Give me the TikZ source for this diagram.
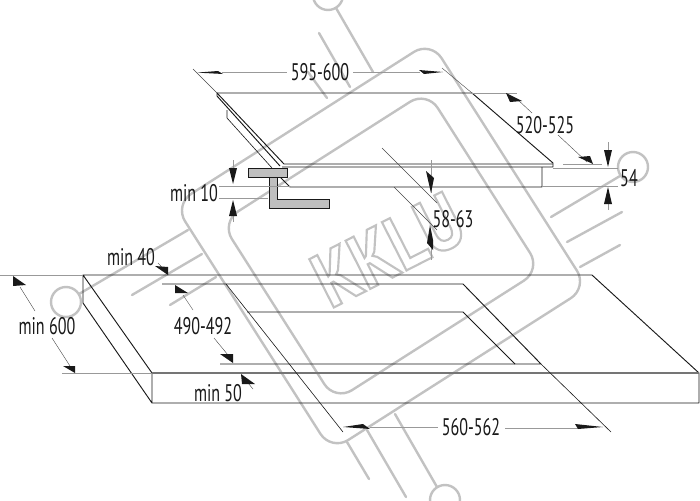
\documentclass[tikz,border=0pt]{standalone}
\usepackage{fontspec}
\setmainfont{PT Sans}[FakeStretch=0.67]
\newfontfamily\markfont{PT Sans}[FakeStretch=0.85]
\definecolor{wm}{gray}{0.76}
\definecolor{ink}{gray}{0.1}
\definecolor{pale}{gray}{0.6}
\tikzset{
  wmline/.style={draw=wm,line width=1.8pt,line cap=round},
  edge/.style={draw=ink,line width=0.7pt,line join=round},
  thin edge/.style={draw=ink,line width=0.45pt},
  ext/.style={draw=pale,line width=0.5pt},
  leader/.style={draw=ink!80,line width=0.3pt},
  tip/.style={fill=ink,draw=none},
  lab/.style={font=\fontsize{18}{18}\selectfont,text=ink,inner sep=0pt,anchor=center},
  steel/.style={fill=black!25,draw=ink,line width=0.7pt}
}
\begin{document}
\begin{tikzpicture}[x=0.75pt,y=-0.75pt]
\useasboundingbox (0,0) rectangle (700,500);
% watermark
\begin{scope}[shift={(381,246)},rotate=32.5]
  \draw[wmline,rounded corners=15] (-152,-146) rectangle (152,146);
  \draw[wmline,rounded corners=15] (-122,-106) rectangle (122,106);
\end{scope}
\node[rotate=27,inner sep=0pt,text=wm,font=\fontsize{58}{58}\markfont\bfseries] (mark) at (388,250)
  {\special{pdf:code 1 Tr 1.6 w}KKLU\special{pdf:code 0 Tr}};
\draw[wmline] (328,-5) circle (15);
\draw[wmline] (336,8) -- (373,72);
\draw[wmline] (319,33) -- (350,87);
\draw[wmline] (308,72) -- (327,98);
\draw[wmline] (445,500) circle (15);
\draw[wmline] (437,487) -- (395,414);
\draw[wmline] (367,430) -- (406,497);
\draw[wmline] (347,442) -- (369,479);
\draw[wmline] (633,167) circle (15);
\draw[wmline] (620,176) -- (551,217);
\draw[wmline] (622,212) -- (567,242);
\draw[wmline] (620,245) -- (580,267);
\draw[wmline] (66,302) circle (15);
\draw[wmline] (79,294) -- (188,230);
\draw[wmline] (132,295) -- (202,254);
\draw[wmline] (170,305) -- (216,277);
% hob
\draw[edge] (217,93) -- (472,93) -- (553,163) -- (553,167) -- (282,167);
\draw[edge] (553,164) -- (284,164) -- (217,93) -- (217,96) -- (280,166);
\draw[thin edge] (227,110) -- (227,118) -- (272,168);
\draw[edge] (280,177) -- (290,187) -- (542,187) -- (542,167);
% bracket
\draw[steel] (248,168) rectangle (287,177);
\draw[steel] (269,177) -- (269,208) -- (329,208) -- (329,199) -- (277,199) -- (277,177) -- cycle;
% worktop
\draw[edge] (83,275) -- (592,275) -- (699,373) -- (699,403) -- (152,403) -- (83,303) -- (83,275) -- (152,373) -- (152,403);
\draw[draw=ink!60,line width=0.9pt] (152,373) -- (699,373);
% cut-out
\draw[edge] (162,284) -- (463,284) -- (541,364) -- (220,364);
\draw[edge] (247,312) -- (463,312) -- (515,364);
\draw[thin edge] (226,284) -- (343,432);
\draw[thin edge] (541,364) -- (611,432);
% extension lines
\draw[leader] (193,69) -- (217,93);
\draw[leader] (442,68) -- (472,93);
\draw[ext] (472,93) -- (517,93);
\draw[ext] (563,164) -- (602,164);
\draw[ext] (553,168) -- (618,168);
\draw[ext] (542,186) -- (618,186);
\draw[leader] (382,148) -- (437,203);
\draw[leader] (394,187) -- (437,230);
\draw[ext] (219,186) -- (290,186);
\draw[ext] (219,198) -- (268,198);
\draw[ext] (0,275) -- (83,275);
\draw[ext] (62,373) -- (152,373);
% dimension lines and leaders
\draw[ext] (222,72) -- (287,72);
\draw[ext] (353,72) -- (420,72);
\draw[leader] (517,99) -- (532,113);
\draw[leader] (558,135) -- (587,162);
\draw[ext] (608,142) -- (608,150);
\draw[ext] (608,204) -- (608,210);
\draw[ext] (431,160) -- (431,193);
\draw[ext] (431,243) -- (431,260);
\draw[ext] (233,160) -- (233,168);
\draw[ext] (233,216) -- (233,222);
\draw[leader] (158,263) -- (168,274);
\draw[leader] (20,287) -- (35,311);
\draw[leader] (52,338) -- (70,366);
\draw[leader] (183,295) -- (193,310);
\draw[leader] (214,338) -- (228,355);
\draw[leader] (248,383) -- (253,389);
\draw[ext] (370,427) -- (438,427);
\draw[ext] (505,428) -- (578,428);
% arrowheads
\fill[tip] (197,72.6) -- (218,71) -- (223,74) -- cycle;
\fill[tip] (443,72) -- (419,70) -- (424,74) -- cycle;
\fill[tip] (506,93) -- (522,101) -- (510,102) -- cycle;
\fill[tip] (593,164) -- (578,157) -- (590,156) -- cycle;
\fill[tip] (608,167) -- (604,150) -- (612,150) -- cycle;
\fill[tip] (608,187) -- (604,204) -- (612,204) -- cycle;
\fill[tip] (431,193) -- (428,180) -- (426,171) -- (434,178) -- cycle;
\fill[tip] (430,225) -- (433,240) -- (433,250) -- (427,243) -- cycle;
\fill[tip] (233,184) -- (229,168) -- (237,168) -- cycle;
\fill[tip] (233,200) -- (229,216) -- (237,216) -- cycle;
\fill[tip] (168,275) -- (155,266) -- (168,267) -- cycle;
\fill[tip] (13,276) -- (13,286) -- (26,285) -- cycle;
\fill[tip] (75,373) -- (63,366) -- (75,366) -- cycle;
\fill[tip] (175,285) -- (175,293) -- (188,293) -- cycle;
\fill[tip] (233,363) -- (220,354) -- (233,354) -- cycle;
\fill[tip] (241,374) -- (242,384) -- (255,384) -- cycle;
\fill[tip] (343,427) -- (363,424) -- (370,429) -- cycle;
\fill[tip] (603,427) -- (575,424) -- (578,429) -- cycle;
% labels
\node[lab] (w595) at (320,72) {595-600};
\node[lab] (d520) at (545,125) {520-525};
\node[lab] (h54) at (629,178) {54};
\node[lab] (d58) at (453,219) {58-63};
\node[lab] (m10) at (194,193) {min 10};
\node[lab] (m40) at (131,257) {min 40};
\node[lab] (m600) at (47,326) {min 600};
\node[lab] (d490) at (203,326) {490-492};
\node[lab] (m50) at (218,393) {min 50};
\node[lab] (w560) at (471,427) {560-562};
\end{tikzpicture}
\end{document}
